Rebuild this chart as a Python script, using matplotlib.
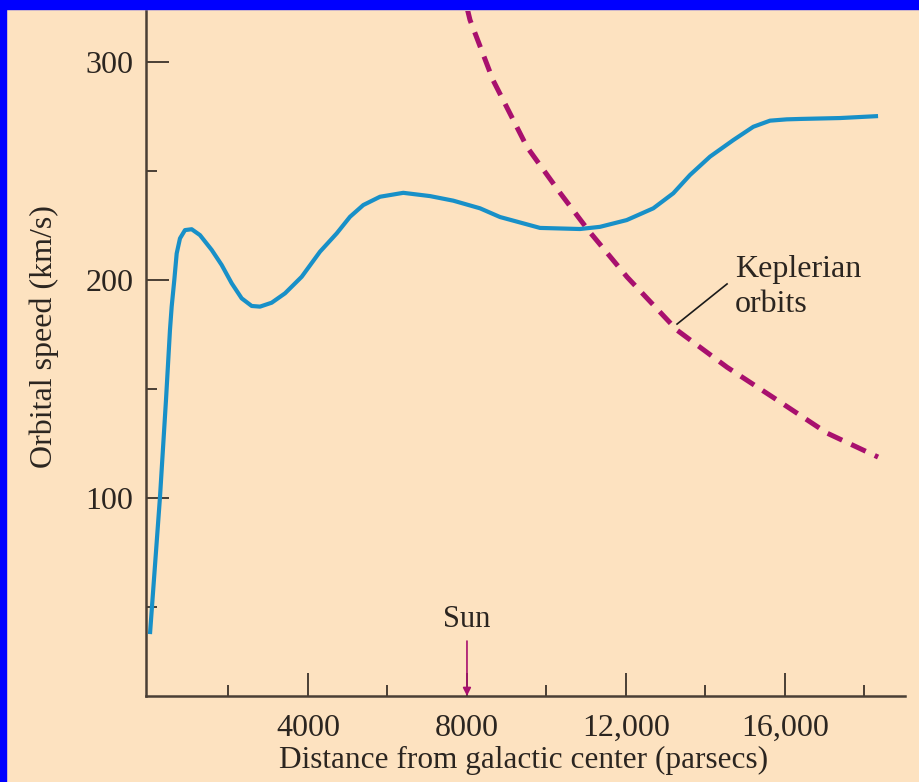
import matplotlib
matplotlib.use('Agg')
import matplotlib.pyplot as plt
from matplotlib.patches import Rectangle
from matplotlib.ticker import FixedLocator, FixedFormatter

# rotation curve (parsecs, km/s)
obs_r = [25, 277, 428, 528, 571, 637, 697, 780, 906, 1074, 1283, 1578, 1829,
         2081, 2332, 2584, 2793, 3087, 3422, 3842, 4302, 4723, 5057, 5392,
         5812, 6398, 7070, 7656, 8328, 8831, 9838, 10844, 11347, 12019, 12688,
         13191, 13612, 14115, 14701, 15204, 15624, 16044, 16411, 17385, 18342]
obs_v = [37.6, 100.5, 145.0, 177.1, 187.8, 200.0, 212.2, 219.1, 222.9, 223.3,
         220.6, 213.8, 206.9, 198.5, 191.6, 188.1, 187.8, 189.6, 193.9, 201.5,
         213.0, 221.4, 229.0, 234.4, 238.2, 240.0, 238.5, 236.4, 232.9, 228.9,
         223.9, 223.4, 224.4, 227.5, 232.9, 239.8, 248.2, 256.6, 264.2, 270.3,
         273.1, 273.7, 273.9, 274.3, 275.2]

# Keplerian fall-off as drawn
kep_r = [8000, 8076, 8655, 9511, 10341, 11045, 12027, 13285, 14543, 15800,
         17058, 18342]
kep_v = [325, 319.3, 291.7, 261, 240, 223, 201.4, 177, 160, 145, 129.8, 118.8]

x_major = [4000, 8000, 12000, 16000]
x_minor = [2000, 6000, 10000, 14000, 18000]
x_labels = ['4000', '8000', '12,000', '16,000']
y_major = [100, 200, 300]
y_minor = [50, 150, 250]
y_labels = ['100', '200', '300']

sun_r = 8000

bg = '#FDE2C0'
ink = '#2b2520'
tick_col = '#4a3f35'
blue = '#1890C8'
magenta = '#A8106E'

plt.rcParams['font.family'] = ['Liberation Serif', 'DejaVu Serif']

fig = plt.figure(figsize=(9.2, 7.82), dpi=100, facecolor=bg)
ax = fig.add_axes([146 / 920, 1 - 696 / 782, (905 - 146) / 920, (696 - 11) / 782])
ax.set_facecolor(bg)

# blue frame along top and left edge
fig.patches.append(Rectangle((0, 1 - 9 / 782), 1, 9 / 782, transform=fig.transFigure,
                             color='#0000FF', zorder=10))
fig.patches.append(Rectangle((0, 0), 6 / 920, 1, transform=fig.transFigure,
                             color='#0000FF', zorder=10))

ax.plot(obs_r, obs_v, color=blue, lw=3.0, solid_capstyle='butt',
        solid_joinstyle='round', zorder=3)
ax.plot(kep_r, kep_v, color=magenta, lw=3.6, dashes=(3.2, 2.0), zorder=2)

ax.set_xlim(-75, 19020)
ax.set_ylim(9.2, 323.4)

for s in ['top', 'right']:
    ax.spines[s].set_visible(False)
for s in ['left', 'bottom']:
    ax.spines[s].set_color(tick_col)
    ax.spines[s].set_linewidth(1.8)

ax.xaxis.set_major_locator(FixedLocator(x_major))
ax.xaxis.set_minor_locator(FixedLocator(x_minor))
ax.xaxis.set_major_formatter(FixedFormatter(x_labels))
ax.yaxis.set_major_locator(FixedLocator(y_major))
ax.yaxis.set_minor_locator(FixedLocator(y_minor))
ax.yaxis.set_major_formatter(FixedFormatter(y_labels))

ax.tick_params(which='both', direction='in', color=tick_col, width=1.4, labelcolor=ink,
               labelsize=23)
ax.tick_params(which='major', length=16.5)
ax.tick_params(which='minor', length=8)
ax.tick_params(axis='x', which='major', pad=13)
ax.tick_params(axis='y', which='major', pad=9)

ax.set_xlabel('Distance from galactic center (parsecs)', fontsize=22.5, color=ink)
ax.xaxis.set_label_coords(0.498, -0.073)
ax.set_ylabel('Orbital speed (km/s)', fontsize=23, color=ink)
ax.yaxis.set_label_coords(-0.114, 0.524)

# Sun marker
ax.annotate('Sun', xy=(sun_r, 9.2), xytext=(sun_r, 40.8), ha='center', va='baseline',
            fontsize=22, color=ink,
            arrowprops=dict(arrowstyle='-|>', color=magenta, lw=1.2,
                            mutation_scale=12, shrinkA=3, shrinkB=0))

# Keplerian label with leader line
ax.plot([13285, 14543], [179.8, 198.2], color='#1a1a1a', lw=1.2)
ax.text(14744, 201.4, 'Keplerian', fontsize=23, color=ink, ha='left', va='baseline')
ax.text(14744, 185.3, 'orbits', fontsize=23, color=ink, ha='left', va='baseline')

plt.savefig('out.png', dpi=100, facecolor=bg)
